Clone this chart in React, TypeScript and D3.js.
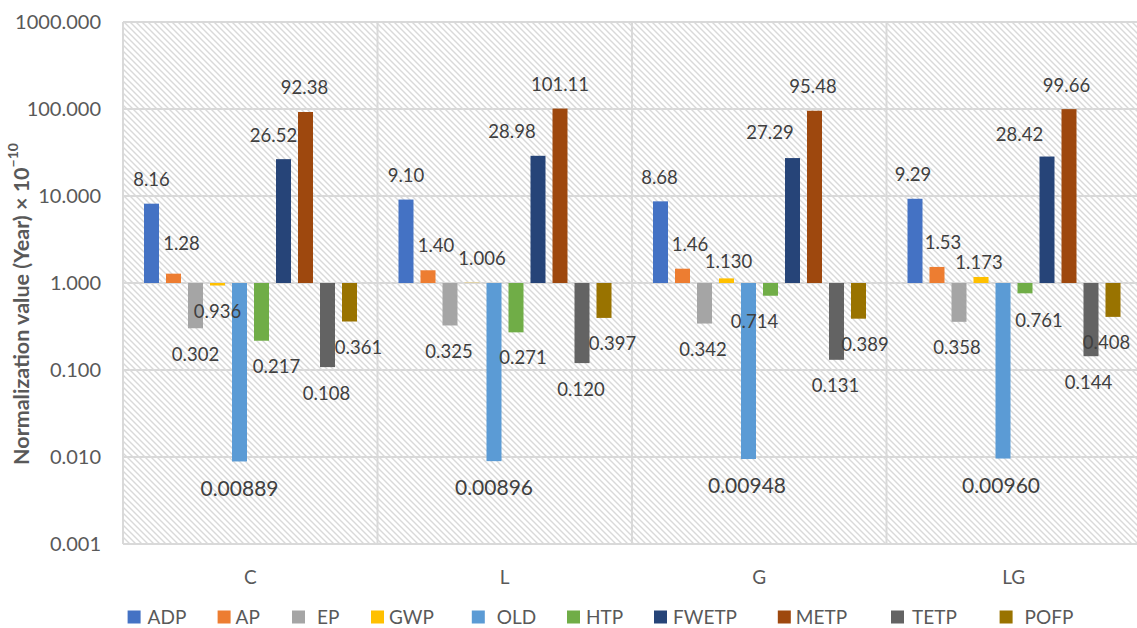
import React from "react";
import * as d3 from "d3";

// ---------- data ----------
const categories = ["C", "L", "G", "LG"];
const seriesNames = ["ADP", "AP", "EP", "GWP", "OLD", "HTP", "FWETP", "METP", "TETP", "POFP"];
const ADP = [8.16, 9.10, 8.68, 9.29];
const AP = [1.28, 1.40, 1.46, 1.53];
const EP = [0.302, 0.325, 0.342, 0.358];
const GWP = [0.936, 1.006, 1.130, 1.173];
const OLD = [0.00889, 0.00896, 0.00948, 0.00960];
const HTP = [0.217, 0.271, 0.714, 0.761];
const FWETP = [26.52, 28.98, 27.29, 28.42];
const METP = [92.38, 101.11, 95.48, 99.66];
const TETP = [0.108, 0.120, 0.131, 0.144];
const POFP = [0.361, 0.397, 0.389, 0.408];
const seriesValues = [ADP, AP, EP, GWP, OLD, HTP, FWETP, METP, TETP, POFP];
const decimals = [2, 2, 3, 3, 5, 3, 2, 2, 3, 3];
const yTicks = [0.001, 0.01, 0.1, 1, 10, 100, 1000];

// ---------- style ----------
const colors = ["#4472C4", "#ED7D31", "#A5A5A5", "#FFC000", "#5B9BD5", "#70AD47", "#264478", "#9E480E", "#636363", "#997300"];
const FONT = "Lato, 'Open Sans', sans-serif";
// label nudges [dx, dy] per category (rows) and series (cols), hand-placed in original
const labelNudge: [number, number][][] = [
  [[0, 0], [8, -6], [0, 0], [0, 0], [0, 0], [15, 0], [-10, 0], [-1, 0], [-1, 0], [9, 0]],
  [[0, 0], [8, -1], [-1, 0], [10, 0], [0, 0], [7, -1], [-26, 0], [0, 0], [-1, 0], [8.5, 0]],
  [[-1, 0], [7.5, 0], [-1.5, 0], [2, 7], [-1.5, 0], [-16, 0], [-22.5, -2], [-1.5, 0], [-1, 0], [6.5, 0]],
  [[-2, 0], [6, 0], [-2, 0], [-2, 9.5], [-2, 0], [14, 1], [-27.5, 1.5], [-2.5, 0], [-2.5, 0], [-6.5, 0]],
];
const legendTextX = [147.6, 235.6, 317, 389, 496.8, 586, 673, 795.8, 912, 1024.6];
const legendGap = [20, 18, 25, 18, 25, 19, 19, 18, 21, 25];

const W = 1137, H = 628;
const plotL = 123, plotR = 1141, plotT = 22, plotB = 544;

export default function App() {
  const x0 = d3.scaleBand<string>().domain(categories).range([plotL, plotR]).padding(0);
  const x1 = d3.scaleBand<string>().domain(seriesNames).range([21, 234]).paddingInner(7 / 22).paddingOuter(0);
  const y = d3.scaleLog().domain([0.001, 1000]).range([plotB, plotT]);
  const base = y(1);
  const fmtTick = d3.format(".3f");

  const vLines = categories.map((c) => x0(c)!).concat([plotR]);

  return (
    <svg width={W} height={H} style={{ position: "absolute", left: 0, top: 0, background: "#fff" }} fontFamily={FONT}>
      <defs>
        <pattern id="hatch" patternUnits="userSpaceOnUse" width={6} height={6}>
          <rect width={6} height={6} fill="#ffffff" />
          <path d="M-1,-1 L7,7 M-1,5 L1,7 M5,-1 L7,1" stroke="#d9d9d9" strokeWidth={1.4} />
        </pattern>
      </defs>
      <rect x={plotL} y={plotT} width={plotR - plotL} height={plotB - plotT} fill="url(#hatch)" />
      {yTicks.map((t) => (
        <line key={"g" + t} x1={plotL} x2={plotR} y1={y(t)} y2={y(t)} stroke="#d9d9d9" strokeWidth={2} />
      ))}
      {vLines.map((vx, i) => (
        <line key={"v" + i} x1={vx} x2={vx} y1={plotT} y2={plotB} stroke="#d9d9d9" strokeWidth={2} />
      ))}
      {yTicks.map((t) => (
        <text key={"t" + t} x={101} y={y(t)} dy="0.35em" textAnchor="end" fontSize={20} fill="#595959">
          {fmtTick(t)}
        </text>
      ))}
      <text
        transform={`translate(21, 304) rotate(-90)`}
        textAnchor="middle"
        dy="0.35em"
        fontSize={21.5}
        fontWeight="bold"
        fill="#595959"
      >
        Normalization value (Year) × 10
        <tspan fontSize={14} dy="-0.75em">−10</tspan>
      </text>
      {categories.map((c, ci) => (
        <g key={c}>
          {seriesNames.map((s, si) => {
            const v = seriesValues[si][ci];
            const bx = x0(c)! + x1(s)!;
            const bw = x1.bandwidth();
            const yv = y(v);
            const top = Math.min(yv, base);
            const h = Math.abs(yv - base);
            return <rect key={s} x={bx} y={top} width={bw} height={h} fill={colors[si]} />;
          })}
        </g>
      ))}
      {categories.map((c, ci) => (
        <g key={"l" + c}>
          {seriesNames.map((s, si) => {
            const v = seriesValues[si][ci];
            const cx = x0(c)! + x1(s)! + x1.bandwidth() / 2;
            const yv = y(v);
            const [ndx, ndy] = labelNudge[ci][si];
            const ly = v >= 1 ? yv - 24 : yv + (si === 4 ? 27 : 26);
            return (
              <text
                key={s}
                x={cx + ndx}
                y={ly + ndy}
                dy="0.35em"
                textAnchor="middle"
                fontSize={si === 4 ? 21 : 18.5}
                fill="#404040"
              >
                {v.toFixed(decimals[si])}
              </text>
            );
          })}
        </g>
      ))}
      {categories.map((c) => (
        <text key={"c" + c} x={x0(c)! + x0.bandwidth() / 2} y={577} dy="0.35em" textAnchor="middle" fontSize={19} fill="#595959">
          {c}
        </text>
      ))}
      {seriesNames.map((s, si) => (
        <g key={"lg" + s}>
          <rect x={legendTextX[si] - legendGap[si]} y={610.5} width={13} height={13} fill={colors[si]} />
          <text x={legendTextX[si]} y={617} dy="0.35em" fontSize={19} fill="#595959">
            {s}
          </text>
        </g>
      ))}
    </svg>
  );
}
